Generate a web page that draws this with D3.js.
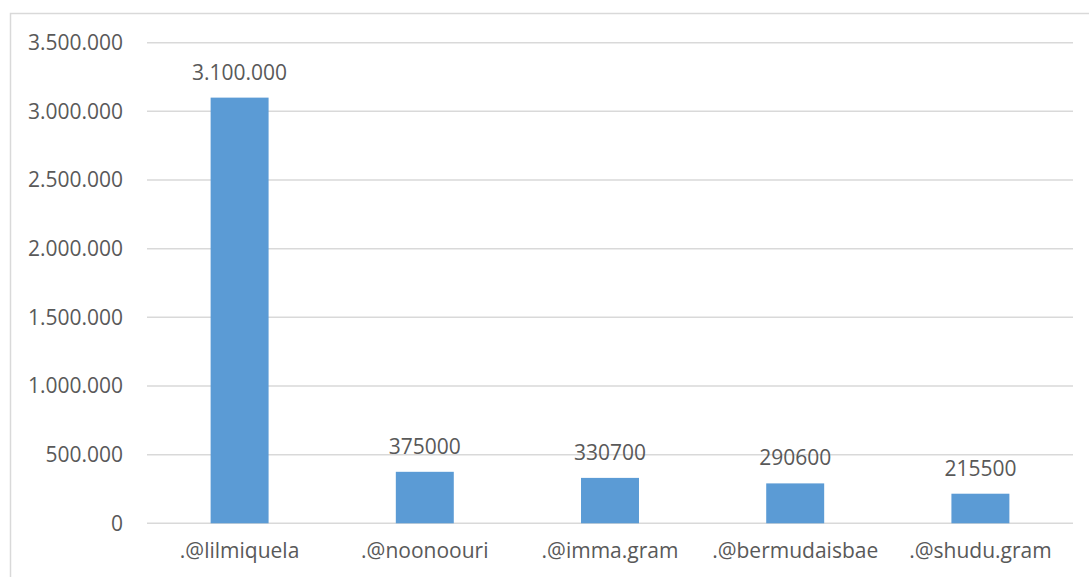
<!DOCTYPE html>
<html lang="en">
<head>
    <meta charset="UTF-8">
    <script src="https://d3js.org/d3.v7.min.js"></script>
    <title>Followers</title>
    <style>
        html,
        body {
            margin: 0px;
            padding: 0px;
            background-color: #ffffff;
            font-family: "Open Sans", sans-serif;
            color: #595959;
        }
        svg text {
            fill: #595959;
            font-size: 21px;
        }
    </style>
</head>
<body>
    <div id='chart'></div>

    <script>
        let accounts = ['.@lilmiquela', '.@noonoouri', '.@imma.gram', '.@bermudaisbae', '.@shudu.gram'];
        let followers = [3100000, 375000, 330700, 290600, 215500];
        let value_labels = ['3.100.000', '375000', '330700', '290600', '215500'];
        let y_ticks = [0, 500000, 1000000, 1500000, 2000000, 2500000, 3000000, 3500000];

        let width = 1089;
        let height = 577;

        let margin = {
            top: 42.7,
            bottom: 53.7,
            left: 147,
            right: 16
        }

        let svg = d3.select('#chart').append('svg').attr('width', width).attr('height', height);

        // chart border (runs off the right and bottom edge)
        svg.append('rect')
            .attr('x', 10.5).attr('y', 13.5)
            .attr('width', 1200).attr('height', 700)
            .attr('fill', 'none')
            .attr('stroke', '#d9d9d9')
            .attr('stroke-width', 1.5);

        let x = d3.scaleBand()
            .domain(accounts)
            .range([margin.left, width - margin.right])
            .padding(0);

        let y = d3.scaleLinear()
            .domain([0, 3500000])
            .range([height - margin.bottom, margin.top]);

        let bar_w = x.bandwidth() * 0.313;

        // gridlines
        svg.append('g')
            .selectAll('line')
            .data(y_ticks)
            .join('line')
            .attr('x1', margin.left)
            .attr('x2', width - margin.right)
            .attr('y1', d => y(d))
            .attr('y2', d => y(d))
            .attr('stroke', '#d9d9d9')
            .attr('stroke-width', 1.5);

        // y labels
        let fmt = d => d === 0 ? '0' : d3.format(',')(d).replace(/,/g, '.');
        svg.append('g')
            .selectAll('text')
            .data(y_ticks)
            .join('text')
            .attr('x', 123)
            .attr('y', d => y(d))
            .attr('dy', '0.35em')
            .attr('text-anchor', 'end')
            .text(fmt);

        // bars
        svg.append('g')
            .selectAll('rect')
            .data(followers)
            .join('rect')
            .attr('x', (d, i) => x(accounts[i]) + x.bandwidth() / 2 - bar_w / 2)
            .attr('y', d => y(d))
            .attr('width', bar_w)
            .attr('height', d => y(0) - y(d))
            .attr('fill', '#5b9bd5');

        // value labels
        svg.append('g')
            .selectAll('text')
            .data(followers)
            .join('text')
            .attr('x', (d, i) => x(accounts[i]) + x.bandwidth() / 2)
            .attr('y', d => y(d) - 18)
            .attr('text-anchor', 'middle')
            .text((d, i) => value_labels[i]);

        // category labels
        svg.append('g')
            .selectAll('text')
            .data(accounts)
            .join('text')
            .attr('x', d => x(d) + x.bandwidth() / 2)
            .attr('y', y(0) + 35)
            .attr('text-anchor', 'middle')
            .text(d => d);
    </script>
</body>
</html>
